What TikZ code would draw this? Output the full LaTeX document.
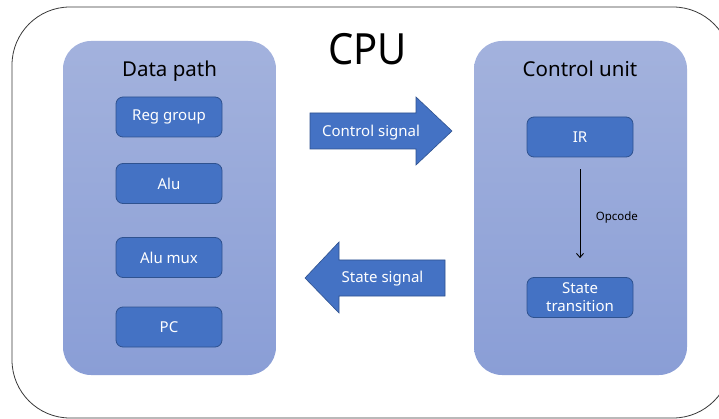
\documentclass[tikz,border=0pt]{standalone}
\usepackage{fontspec}
\setmainfont{Noto Sans}
\usetikzlibrary{arrows.meta}
\definecolor{paneltop}{HTML}{A3B2DD}
\definecolor{panelbot}{HTML}{8A9ED6}
\definecolor{unitfill}{HTML}{4472C4}
\definecolor{unitline}{HTML}{2F528F}
\definecolor{framecol}{HTML}{3A3A3A}
\tikzset{
  panel/.style={rounded corners=28pt, top color=paneltop, bottom color=panelbot,
    minimum width=213pt, minimum height=334pt, inner sep=0pt},
  unitbox/.style={draw=unitline, line width=0.8pt, fill=unitfill, rounded corners=7pt,
    minimum width=106pt, minimum height=40pt, text=white, align=center, inner sep=0pt,
    font=\fontsize{15}{18}\selectfont},
  paneltitle/.style={anchor=base, font=\fontsize{20.5}{24}\selectfont},
  blockarrow/.style={draw=unitline, line width=0.6pt, fill=unitfill},
  arrowtext/.style={anchor=base, text=white, font=\fontsize{15}{18}\selectfont},
}
\begin{document}
\begin{tikzpicture}[x=1pt,y=-1pt]
\useasboundingbox (0,0) rectangle (719,419);
\fill[white] (0,0) rectangle (719,419);

% CPU frame
\draw[framecol, line width=0.8pt, rounded corners=58pt] (12,7) rectangle (731,418);
\node[anchor=base, font=\fontsize{43}{48}\selectfont] (cpu) at (367.5,65) {\scalebox{0.93}[1]{CPU}};

% panels
\node[panel] (dp) at (169.5,208) {};
\node[panel] (cu) at (580.5,208) {};
\node[paneltitle] (dptitle) at (169.5,77) {Data path};
\node[paneltitle] (cutitle) at (580,77) {Control unit};

% data path units
\node[unitbox] (reg) at (169,117) {Reg group};
\node[unitbox] (alu) at (169,183.5) {Alu};
\node[unitbox] (mux) at (169,257.5) {Alu mux};
\node[unitbox] (pc) at (169,327) {PC};

% control unit units
\node[unitbox] (ir) at (580,137) {IR};
\node[unitbox] (st) at (580,297.5) {State\\transition};
\draw[line width=0.9pt, -{Straight Barb[length=4pt,width=7pt]}, shorten <=12pt, shorten >=19pt] (ir) -- (st)
  node[pos=0.5, right=12pt, font=\fontsize{11.5}{14}\selectfont] (opc) {Opcode};

% block arrows
\draw[blockarrow] (310,113) -- (416,113) -- (416,97) -- (452,131) -- (416,165) -- (416,149) -- (310,149) -- cycle;
\node[arrowtext] (ctl) at (371,137) {Control signal};
\draw[blockarrow] (445,260) -- (339,260) -- (339,242) -- (305,278) -- (339,313) -- (339,296) -- (445,296) -- cycle;
\node[arrowtext] (sts) at (382.5,283) {State signal};
\end{tikzpicture}
\end{document}
